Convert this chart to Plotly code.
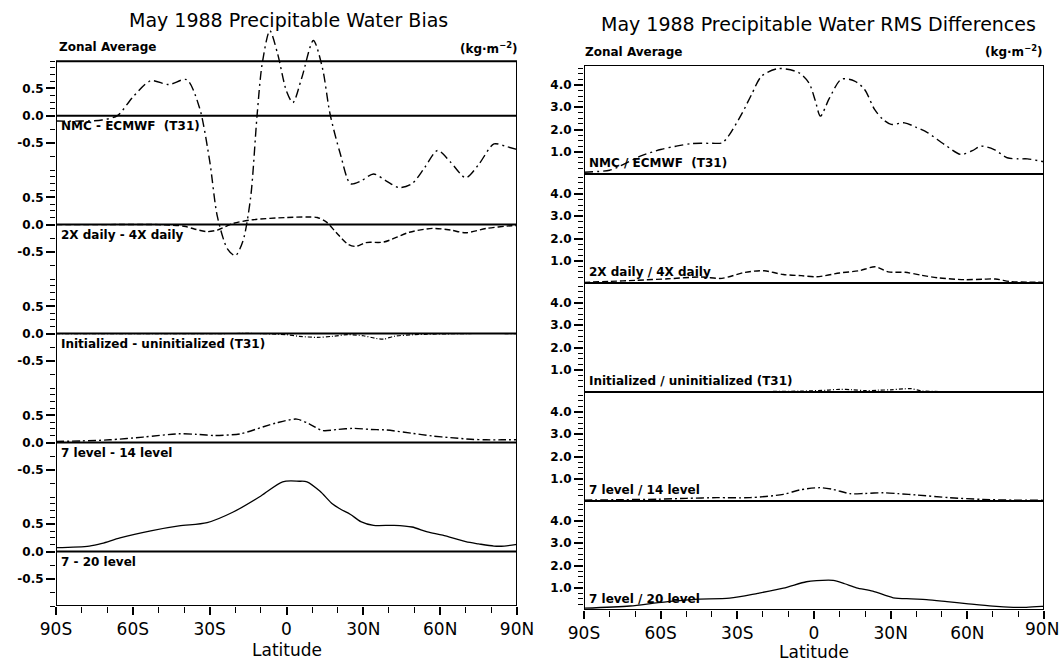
import numpy as np
import plotly.graph_objects as go

# ---------------- DATA ----------------
# Left: Precipitable water bias (kg m-2), each curve relative to its own zero line
bias_labels = ["NMC - ECMWF  (T31)", "2X daily - 4X daily", "Initialized - uninitialized (T31)",
               "7 level - 14 level", "7 - 20 level"]

lat_b_nmc = [-90, -80, -72, -66, -60, -53, -46, -39, -34, -30, -27, -23, -20, -17, -14, -11.5, -9.5,
             -6.5, -3.5, 0, 2.5, 6, 10.5, 14, 17, 21, 25, 29, 34, 39, 44, 49, 54, 59, 64, 70, 75, 81, 86, 90]
b_nmc = [-0.1, -0.1, -0.08, 0.0, 0.34, 0.64, 0.57, 0.66, 0.15, -0.83, -1.85, -2.45, -2.57, -2.3, -1.5, 0.0,
         0.95, 1.56, 1.14, 0.45, 0.24, 0.7, 1.38, 0.88, 0.03, -0.7, -1.25, -1.2, -1.07, -1.2, -1.32, -1.25,
         -0.95, -0.64, -0.85, -1.14, -0.9, -0.52, -0.57, -0.62]

lat_b_2x = [-90, -70, -50, -40, -36, -31, -27, -21, -13, 0, 8, 12, 15.5, 19.5, 24, 27, 31, 38, 48, 57,
            64, 70, 78, 88, 90]
b_2x = [0.0, 0.0, 0.0, -0.03, -0.08, -0.13, -0.1, 0.02, 0.09, 0.13, 0.14, 0.13, 0.05, -0.15, -0.36, -0.4,
        -0.33, -0.32, -0.14, -0.07, -0.1, -0.15, -0.07, -0.02, -0.02]

lat_b_init = [-90, -60, -30, -10, 0, 5, 12, 18, 24, 30, 35, 38, 42, 50, 70, 90]
b_init = [0.0, 0.0, 0.0, 0.0, -0.02, -0.05, -0.07, -0.05, -0.02, -0.04, -0.09, -0.1, -0.05, -0.02, 0.0, 0.0]

lat_b_714 = [-90, -80, -69, -56, -42, -35, -28, -18, -9, -4, 4, 9, 14, 20, 26, 33, 39, 49, 57, 64, 72,
             78, 84, 90]
b_714 = [0.02, 0.03, 0.05, 0.1, 0.16, 0.15, 0.13, 0.16, 0.29, 0.36, 0.43, 0.34, 0.22, 0.24, 0.26, 0.24,
         0.23, 0.17, 0.12, 0.09, 0.06, 0.05, 0.05, 0.05]

lat_b_720 = [-90, -77, -72, -65, -53, -42, -31, -21, -10, -1.5, 5, 8, 13, 18, 21, 25, 29, 34, 42, 49, 55,
             61, 70, 75, 81, 85, 90]
b_720 = [0.07, 0.1, 0.15, 0.25, 0.38, 0.47, 0.53, 0.72, 1.02, 1.28, 1.29, 1.28, 1.11, 0.87, 0.78, 0.68,
         0.55, 0.48, 0.48, 0.45, 0.36, 0.3, 0.18, 0.14, 0.1, 0.1, 0.13]

# Right: Precipitable water RMS differences (kg m-2)
rms_labels = ["NMC / ECMWF  (T31)", "2X daily / 4X daily", "Initialized / uninitialized (T31)",
              "7 level / 14 level", "7 level / 20 level"]

lat_r_nmc = [-90, -80, -76, -68, -60, -54, -47.6, -40, -36, -33.5, -28, -24.4, -20.5, -14, -6, -2, 0.5,
             2.5, 6, 10.7, 15.9, 19.8, 23.7, 27, 30.2, 35.4, 40, 44.4, 51, 57.5, 62, 65.3, 70.5, 75.6, 80,
             83.5, 90]
r_nmc = [0.08, 0.17, 0.35, 0.8, 1.1, 1.25, 1.37, 1.38, 1.4, 1.7, 2.76, 3.58, 4.4, 4.74, 4.56, 4.1, 3.3,
         2.6, 3.4, 4.26, 4.18, 3.8, 2.9, 2.45, 2.23, 2.3, 2.1, 1.86, 1.33, 0.88, 1.05, 1.25, 1.1, 0.73,
         0.68, 0.68, 0.55]

lat_r_2x = [-90, -80, -70, -57, -44, -36, -27, -19.5, -12, -5, 1, 10, 17.6, 24, 29, 35.7, 42, 48.8, 59,
            66, 71, 77, 84, 90]
r_2x = [0.03, 0.07, 0.12, 0.19, 0.27, 0.21, 0.48, 0.55, 0.38, 0.33, 0.28, 0.45, 0.55, 0.73, 0.5, 0.48,
        0.35, 0.23, 0.15, 0.17, 0.18, 0.06, 0.04, 0.03]

lat_r_init = [-90, -40, -20, -5, 5, 10, 15, 20, 25, 30, 35, 38, 42, 50, 70, 90]
r_init = [0.0, 0.0, 0.02, 0.04, 0.08, 0.12, 0.1, 0.06, 0.08, 0.1, 0.14, 0.15, 0.05, 0.02, 0.02, 0.01]

lat_r_714 = [-90, -75, -61, -50, -38, -25, -12, -5.5, 2.3, 7.5, 14, 20, 27, 33, 40, 53, 66, 78, 90]
r_714 = [0.04, 0.06, 0.08, 0.12, 0.15, 0.15, 0.3, 0.5, 0.6, 0.52, 0.33, 0.34, 0.37, 0.33, 0.27, 0.15,
         0.07, 0.04, 0.03]

lat_r_720 = [-90, -72, -61, -47, -33, -22, -12, -3, 1, 7.5, 12, 16.6, 23, 31, 38, 44, 52, 59.5, 70, 78,
             83, 89, 90]
r_720 = [0.08, 0.18, 0.33, 0.48, 0.53, 0.75, 0.98, 1.27, 1.32, 1.33, 1.18, 1.0, 0.85, 0.55, 0.5, 0.47,
         0.38, 0.29, 0.17, 0.12, 0.12, 0.16, 0.17]

lat_ticks = [-90, -60, -30, 0, 30, 60, 90]
lat_tick_text = ["90S", "60S", "30S", "0", "30N", "60N", "90N"]

# ---------------- LAYOUT CONSTANTS ----------------
W, H = 1062, 662
FONT = "DejaVu Sans"
BLACK = "#000000"

def px(x):
    return x / W

def py(y):
    return 1 - y / H

BIAS_STEP = 2.0     # each bias sub-panel spans -1..+1
RMS_STEP = 4.9      # each RMS sub-panel spans 0..4.9

bias_series = [(lat_b_nmc, b_nmc), (lat_b_2x, b_2x), (lat_b_init, b_init), (lat_b_714, b_714), (lat_b_720, b_720)]
rms_series = [(lat_r_nmc, r_nmc), (lat_r_2x, r_2x), (lat_r_init, r_init), (lat_r_714, r_714), (lat_r_720, r_720)]
dashes = ["9px,4px,2px,4px", "6px,3px", "4px,2px,1px,2px", "8px,3px,2px,3px", "solid"]
widths = [1.4, 1.4, 1.2, 1.4, 1.3]

fig = go.Figure()

for i, (lat, vals) in enumerate(bias_series):
    off = BIAS_STEP * (4 - i)
    fig.add_trace(go.Scatter(x=lat, y=np.array(vals) + off, mode="lines", xaxis="x", yaxis="y",
                             line=dict(color=BLACK, width=widths[i], dash=dashes[i], shape="spline", smoothing=0.8),
                             showlegend=False, hoverinfo="skip"))
for i, (lat, vals) in enumerate(rms_series):
    off = RMS_STEP * (4 - i)
    fig.add_trace(go.Scatter(x=lat, y=np.array(vals) + off, mode="lines", xaxis="x2", yaxis="y2",
                             line=dict(color=BLACK, width=widths[i], dash=dashes[i], shape="spline", smoothing=0.8),
                             showlegend=False, hoverinfo="skip"))

b_major, b_text, b_minor = [], [], []
for i in range(5):
    o = BIAS_STEP * (4 - i)
    b_major += [o + 0.5, o, o - 0.5]
    b_text += ["0.5", "0.0", "-0.5"]
    b_minor += [o + 0.125 * k for k in (1, 2, 3, 5, 6, 7, 8)] + [o - 0.25, o - 0.75, o - 1.0]
r_major, r_text, r_minor = [], [], []
for i in range(5):
    o = RMS_STEP * (4 - i)
    r_major += [o + 4, o + 3, o + 2, o + 1]
    r_text += ["4.0", "3.0", "2.0", "1.0"]
    r_minor += [o + 0.25 * j for j in range(1, 20) if j % 4 != 0]

tickfont_y = dict(family=FONT, size=12, color=BLACK, weight="bold")
tickfont_x = dict(family=FONT, size=17, color=BLACK)

minor_x = dict(tickmode="array", tickvals=[v for v in range(-80, 90, 10) if v % 30 != 0],
               ticks="outside", ticklen=6, tickwidth=1.2, tickcolor=BLACK)
xcommon = dict(range=[-90, 90], tickmode="array", tickvals=lat_ticks,
               ticks="outside", ticklen=8, tickwidth=1.5, tickcolor=BLACK, tickfont=tickfont_x,
               minor=minor_x, showgrid=False, zeroline=False, showline=False, fixedrange=True,
               automargin=False)

# right x-axis: last label drawn as an annotation so it is not dropped at the page edge
right_tick_text = lat_tick_text[:-1] + [""]

fig.update_layout(
    width=W, height=H, autosize=False,
    margin=dict(l=0, r=0, t=0, b=0, pad=0),
    paper_bgcolor="white", plot_bgcolor="white",
    xaxis=dict(domain=[px(56), px(517)], anchor="y", ticktext=lat_tick_text, **xcommon),
    yaxis=dict(domain=[py(606), py(23)], anchor="x", range=[-1, 9.7], tickmode="array",
               tickvals=b_major, ticktext=b_text, ticks="outside", ticklen=9, tickwidth=1.5,
               tickcolor=BLACK, tickfont=tickfont_y,
               minor=dict(tickmode="array", tickvals=b_minor, ticks="outside", ticklen=5,
                          tickwidth=1.2, tickcolor=BLACK),
               showgrid=False, zeroline=False, showline=False, fixedrange=True, automargin=False),
    xaxis2=dict(domain=[px(584), px(1044)], anchor="y2", ticktext=right_tick_text, **xcommon),
    yaxis2=dict(domain=[py(610), py(65)], anchor="x2", range=[0, 5 * RMS_STEP], tickmode="array",
                tickvals=r_major, ticktext=r_text, ticks="outside", ticklen=9, tickwidth=1.5,
                tickcolor=BLACK, tickfont=tickfont_y,
                minor=dict(tickmode="array", tickvals=r_minor, ticks="outside", ticklen=5,
                           tickwidth=1.2, tickcolor=BLACK),
                showgrid=False, zeroline=False, showline=False, fixedrange=True, automargin=False),
)

shapes = []
shapes.append(dict(type="rect", xref="x", yref="y", x0=-90, x1=90, y0=-1, y1=9,
                   line=dict(color=BLACK, width=2), layer="above"))
for i in range(5):
    o = BIAS_STEP * (4 - i)
    shapes.append(dict(type="line", xref="x", yref="y", x0=-90, x1=90, y0=o, y1=o,
                       line=dict(color=BLACK, width=2), layer="above"))
shapes.append(dict(type="rect", xref="x2", yref="y2", x0=-90, x1=90, y0=0, y1=5 * RMS_STEP,
                   line=dict(color=BLACK, width=2), layer="above"))
for i in range(5):
    o = RMS_STEP * (4 - i)
    shapes.append(dict(type="line", xref="x2", yref="y2", x0=-90, x1=90, y0=o, y1=o,
                       line=dict(color=BLACK, width=2), layer="above"))
fig.update_layout(shapes=shapes)

ann = []
lab_font = dict(family=FONT, size=12, color=BLACK, weight="bold")
for i, t in enumerate(bias_labels):
    o = BIAS_STEP * (4 - i)
    ann.append(dict(text=t, xref="x", yref="y", x=-89, y=o, xanchor="left", yanchor="top",
                    yshift=-1, showarrow=False, font=lab_font))
for i, t in enumerate(rms_labels):
    o = RMS_STEP * (4 - i)
    ann.append(dict(text=t, xref="x2", yref="y2", x=-89, y=o, xanchor="left", yanchor="bottom",
                    yshift=2, showarrow=False, font=lab_font))

title_font = dict(family=FONT, size=19, color=BLACK)
ann.append(dict(text="May 1988 Precipitable Water Bias", xref="paper", yref="paper",
                x=px(288), y=py(20), xanchor="center", yanchor="middle", showarrow=False, font=title_font))
ann.append(dict(text="May 1988 Precipitable Water RMS Differences", xref="paper", yref="paper",
                x=px(818), y=py(24), xanchor="center", yanchor="middle", showarrow=False, font=title_font))

small_font = dict(family=FONT, size=12, color=BLACK, weight="bold")
ann.append(dict(text="Zonal Average", xref="paper", yref="paper", x=px(57), y=py(47),
                xanchor="left", yanchor="middle", showarrow=False, font=small_font))
ann.append(dict(text="Zonal Average", xref="paper", yref="paper", x=px(583), y=py(52),
                xanchor="left", yanchor="middle", showarrow=False, font=small_font))
ann.append(dict(text="(kg·m<sup>−2</sup>)", xref="paper", yref="paper", x=px(519), y=py(48),
                xanchor="right", yanchor="middle", showarrow=False, font=small_font))
ann.append(dict(text="(kg·m<sup>−2</sup>)", xref="paper", yref="paper", x=px(1044), y=py(51),
                xanchor="right", yanchor="middle", showarrow=False, font=small_font))

# right-most tick label of the right panel
ann.append(dict(text=lat_tick_text[-1], xref="paper", yref="paper", x=px(1061), y=py(629),
                xanchor="right", yanchor="middle", showarrow=False, font=tickfont_x))

xlab_font = dict(family=FONT, size=17, color=BLACK)
ann.append(dict(text="Latitude", xref="x", yref="paper", x=0, y=py(650), xanchor="center",
                yanchor="middle", showarrow=False, font=xlab_font))
ann.append(dict(text="Latitude", xref="x2", yref="paper", x=0, y=py(652), xanchor="center",
                yanchor="middle", showarrow=False, font=xlab_font))
fig.update_layout(annotations=ann)

fig.write_html("out.html")
